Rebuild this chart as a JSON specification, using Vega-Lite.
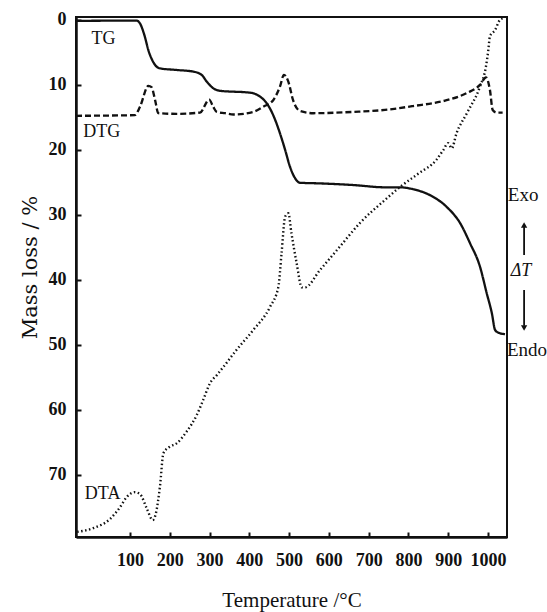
{
  "$schema": "https://vega.github.io/schema/vega-lite/v6.json",
  "width": 431,
  "height": 520,
  "autosize": {"type": "none"},
  "padding": {"left": 76, "top": 17, "right": 40, "bottom": 75},
  "background": "white",
  "config": {
    "view": {"stroke": "#111", "strokeWidth": 2},
    "font": "Liberation Serif",
    "axis": {"grid": false, "domainColor": "#111", "domainWidth": 2.5, "tickColor": "#111", "tickWidth": 2, "labelColor": "#111", "titleColor": "#111"}
  },
  "datasets": {
    "curves": [
      {"series": "TG", "T": -36, "v": 0.2}, {"series": "TG", "T": 49, "v": 0.17}, {"series": "TG", "T": 117, "v": 0.17}, {"series": "TG", "T": 125, "v": 0.6}, {"series": "TG", "T": 137, "v": 2.6}, {"series": "TG", "T": 146, "v": 4.7}, {"series": "TG", "T": 158, "v": 6.5}, {"series": "TG", "T": 175, "v": 7.5}, {"series": "TG", "T": 217, "v": 7.75}, {"series": "TG", "T": 259, "v": 8.0}, {"series": "TG", "T": 280, "v": 8.5}, {"series": "TG", "T": 293, "v": 9.55}, {"series": "TG", "T": 309, "v": 10.55}, {"series": "TG", "T": 326, "v": 10.95}, {"series": "TG", "T": 402, "v": 11.25}, {"series": "TG", "T": 427, "v": 11.85}, {"series": "TG", "T": 444, "v": 12.9}, {"series": "TG", "T": 460, "v": 14.7}, {"series": "TG", "T": 477, "v": 17.5}, {"series": "TG", "T": 490, "v": 20.05}, {"series": "TG", "T": 502, "v": 22.6}, {"series": "TG", "T": 515, "v": 24.4}, {"series": "TG", "T": 527, "v": 25.1}, {"series": "TG", "T": 578, "v": 25.2}, {"series": "TG", "T": 661, "v": 25.45}, {"series": "TG", "T": 741, "v": 25.8}, {"series": "TG", "T": 779, "v": 25.8}, {"series": "TG", "T": 812, "v": 26.1}, {"series": "TG", "T": 854, "v": 27.0}, {"series": "TG", "T": 896, "v": 28.8}, {"series": "TG", "T": 930, "v": 31.3}, {"series": "TG", "T": 955, "v": 34.4}, {"series": "TG", "T": 980, "v": 38.0}, {"series": "TG", "T": 997, "v": 42.1}, {"series": "TG", "T": 1010, "v": 45.2}, {"series": "TG", "T": 1018, "v": 47.75}, {"series": "TG", "T": 1026, "v": 48.15}, {"series": "TG", "T": 1043, "v": 48.4},
      {"series": "DTG", "T": -36, "v": 14.8}, {"series": "DTG", "T": 112, "v": 14.7}, {"series": "DTG", "T": 125, "v": 13.4}, {"series": "DTG", "T": 146, "v": 10.2}, {"series": "DTG", "T": 154, "v": 10.4}, {"series": "DTG", "T": 163, "v": 12.4}, {"series": "DTG", "T": 171, "v": 14.4}, {"series": "DTG", "T": 217, "v": 14.5}, {"series": "DTG", "T": 276, "v": 14.3}, {"series": "DTG", "T": 299, "v": 12.3}, {"series": "DTG", "T": 309, "v": 13.4}, {"series": "DTG", "T": 318, "v": 14.2}, {"series": "DTG", "T": 339, "v": 14.4}, {"series": "DTG", "T": 360, "v": 14.6}, {"series": "DTG", "T": 410, "v": 14.2}, {"series": "DTG", "T": 435, "v": 13.4}, {"series": "DTG", "T": 460, "v": 12.4}, {"series": "DTG", "T": 477, "v": 10.3}, {"series": "DTG", "T": 487, "v": 8.5}, {"series": "DTG", "T": 498, "v": 9.55}, {"series": "DTG", "T": 510, "v": 12.4}, {"series": "DTG", "T": 527, "v": 14.05}, {"series": "DTG", "T": 561, "v": 14.4}, {"series": "DTG", "T": 661, "v": 14.2}, {"series": "DTG", "T": 741, "v": 13.9}, {"series": "DTG", "T": 812, "v": 13.3}, {"series": "DTG", "T": 896, "v": 12.4}, {"series": "DTG", "T": 947, "v": 11.3}, {"series": "DTG", "T": 980, "v": 10.05}, {"series": "DTG", "T": 995, "v": 8.9}, {"series": "DTG", "T": 1005, "v": 10.8}, {"series": "DTG", "T": 1012, "v": 13.9}, {"series": "DTG", "T": 1022, "v": 14.3}, {"series": "DTG", "T": 1037, "v": 14.3},
      {"series": "DTA", "T": -33, "v": 78.8}, {"series": "DTA", "T": 7, "v": 78.25}, {"series": "DTA", "T": 50, "v": 76.8}, {"series": "DTA", "T": 75, "v": 75.0}, {"series": "DTA", "T": 91, "v": 73.5}, {"series": "DTA", "T": 112, "v": 72.7}, {"series": "DTA", "T": 125, "v": 73.0}, {"series": "DTA", "T": 142, "v": 75.2}, {"series": "DTA", "T": 157, "v": 77.0}, {"series": "DTA", "T": 165, "v": 75.95}, {"series": "DTA", "T": 175, "v": 71.9}, {"series": "DTA", "T": 184, "v": 66.7}, {"series": "DTA", "T": 200, "v": 65.7}, {"series": "DTA", "T": 217, "v": 65.2}, {"series": "DTA", "T": 242, "v": 63.4}, {"series": "DTA", "T": 268, "v": 60.8}, {"series": "DTA", "T": 284, "v": 58.5}, {"series": "DTA", "T": 301, "v": 55.95}, {"series": "DTA", "T": 318, "v": 54.7}, {"series": "DTA", "T": 339, "v": 53.1}, {"series": "DTA", "T": 368, "v": 50.8}, {"series": "DTA", "T": 410, "v": 47.75}, {"series": "DTA", "T": 452, "v": 44.2}, {"series": "DTA", "T": 473, "v": 41.1}, {"series": "DTA", "T": 481, "v": 35.95}, {"series": "DTA", "T": 490, "v": 30.3}, {"series": "DTA", "T": 498, "v": 29.8}, {"series": "DTA", "T": 506, "v": 32.9}, {"series": "DTA", "T": 519, "v": 37.5}, {"series": "DTA", "T": 532, "v": 41.2}, {"series": "DTA", "T": 540, "v": 41.2}, {"series": "DTA", "T": 578, "v": 38.5}, {"series": "DTA", "T": 628, "v": 34.9}, {"series": "DTA", "T": 678, "v": 31.3}, {"series": "DTA", "T": 741, "v": 27.75}, {"series": "DTA", "T": 779, "v": 25.75}, {"series": "DTA", "T": 826, "v": 23.65}, {"series": "DTA", "T": 870, "v": 21.6}, {"series": "DTA", "T": 888, "v": 20.05}, {"series": "DTA", "T": 900, "v": 19.0}, {"series": "DTA", "T": 909, "v": 19.8}, {"series": "DTA", "T": 921, "v": 17.5}, {"series": "DTA", "T": 947, "v": 14.4}, {"series": "DTA", "T": 980, "v": 10.3}, {"series": "DTA", "T": 995, "v": 7.25}, {"series": "DTA", "T": 1001, "v": 4.7}, {"series": "DTA", "T": 1005, "v": 2.6}, {"series": "DTA", "T": 1018, "v": 1.6}, {"series": "DTA", "T": 1030, "v": 0.05}, {"series": "DTA", "T": 1037, "v": -0.2}
    ],
    "labels": [
      {"label": "TG", "T": 33, "v": 3.0},
      {"label": "DTG", "T": 29, "v": 17.25},
      {"label": "DTA", "T": 31, "v": 73.0}
    ],
    "side": [
      {"label": "Exo", "T": 1050, "v": 27.0},
      {"label": "Endo", "T": 1048, "v": 50.8}
    ],
    "delta": [
      {"label": "ΔT", "T": 1083, "v": 38.7}
    ],
    "arrows": [
      {"dir": "up", "T": 1091, "v": 31.9, "v2": 36.2, "head": 31.6},
      {"dir": "down", "T": 1091, "v": 41.6, "v2": 47.1, "head": 47.45}
    ]
  },
  "layer": [
    {
      "data": {"name": "curves"},
      "mark": {"type": "line", "color": "#111", "interpolate": "monotone"},
      "encoding": {
        "x": {
          "field": "T", "type": "quantitative",
          "scale": {"domain": [-36, 1048], "nice": false, "zero": false},
          "axis": {
            "values": [100, 200, 300, 400, 500, 600, 700, 800, 900, 1000],
            "format": "d",
            "title": "Temperature /°C",
            "titleFont": "Liberation Serif", "titleFontSize": 21, "titleFontWeight": "normal",
            "titleY": 69, "titleBaseline": "alphabetic",
            "labelFont": "Liberation Serif", "labelFontSize": 18, "labelFontWeight": "bold",
            "tickSize": -5, "labelPadding": 19, "labelFlush": false
          }
        },
        "y": {
          "field": "v", "type": "quantitative",
          "scale": {"domain": [-0.4, 79.6], "nice": false, "zero": false, "reverse": true},
          "axis": {
            "values": [0, 10, 20, 30, 40, 50, 60, 70],
            "title": "Mass loss / %",
            "titleFont": "DejaVu Serif", "titleFontSize": 21, "titleFontWeight": "normal",
            "titleX": -46, "titleY": 250, "titleAlign": "center", "titleBaseline": "middle", "titleAngle": -90,
            "labelFont": "Liberation Serif", "labelFontSize": 18, "labelFontWeight": "bold",
            "tickSize": -5, "labelPadding": 15, "labelFlush": false
          }
        },
        "detail": {"field": "series", "type": "nominal"},
        "strokeDash": {
          "field": "series", "type": "nominal",
          "scale": {"domain": ["TG", "DTG", "DTA"], "range": [[1, 0], [6, 3], [1.5, 2.5]]},
          "legend": null
        },
        "strokeWidth": {
          "field": "series", "type": "nominal",
          "scale": {"domain": ["TG", "DTG", "DTA"], "range": [2.3, 2.4, 1.3]},
          "legend": null
        }
      }
    },
    {
      "data": {"name": "labels"},
      "mark": {"type": "text", "font": "Liberation Serif", "fontSize": 18, "color": "#111", "align": "center", "baseline": "middle"},
      "encoding": {
        "x": {"field": "T", "type": "quantitative"},
        "y": {"field": "v", "type": "quantitative"},
        "text": {"field": "label"}
      }
    },
    {
      "data": {"name": "side"},
      "mark": {"type": "text", "font": "Liberation Serif", "fontSize": 19, "color": "#111", "align": "left", "baseline": "middle"},
      "encoding": {
        "x": {"field": "T", "type": "quantitative"},
        "y": {"field": "v", "type": "quantitative"},
        "text": {"field": "label"}
      }
    },
    {
      "data": {"name": "delta"},
      "mark": {"type": "text", "font": "Liberation Serif", "fontSize": 18, "fontStyle": "italic", "color": "#111", "align": "center", "baseline": "middle"},
      "encoding": {
        "x": {"field": "T", "type": "quantitative"},
        "y": {"field": "v", "type": "quantitative"},
        "text": {"field": "label"}
      }
    },
    {
      "data": {"name": "arrows"},
      "mark": {"type": "rule", "color": "#111", "strokeWidth": 1.8},
      "encoding": {
        "x": {"field": "T", "type": "quantitative"},
        "y": {"field": "v", "type": "quantitative"},
        "y2": {"field": "v2"}
      }
    },
    {
      "data": {"name": "arrows"},
      "mark": {"type": "point", "filled": true, "color": "#111", "opacity": 1, "size": 40},
      "encoding": {
        "x": {"field": "T", "type": "quantitative"},
        "y": {"field": "head", "type": "quantitative"},
        "shape": {
          "field": "dir", "type": "nominal",
          "scale": {"domain": ["up", "down"], "range": ["triangle-up", "triangle-down"]},
          "legend": null
        }
      }
    }
  ]
}
